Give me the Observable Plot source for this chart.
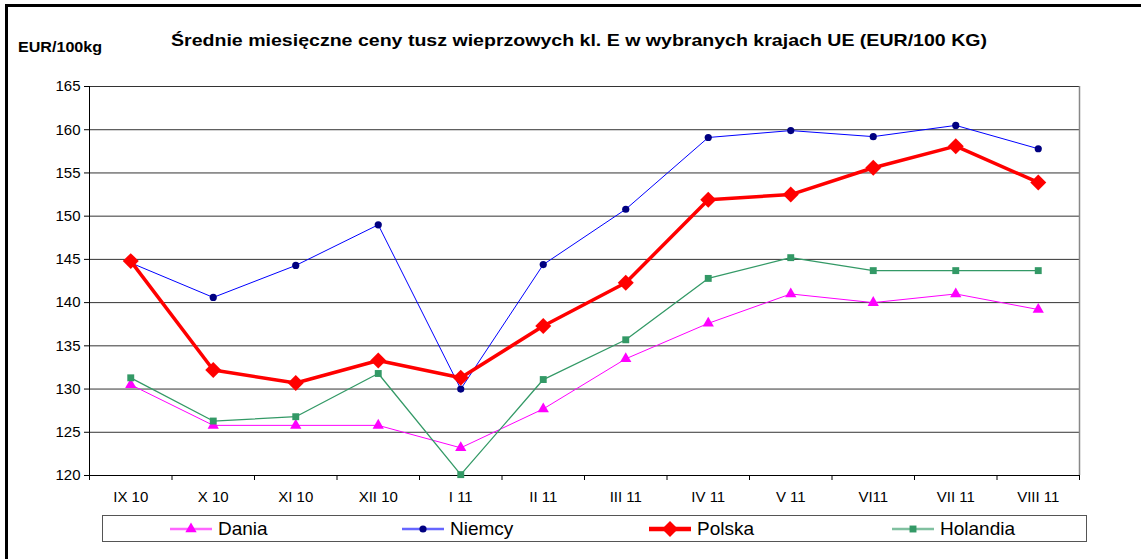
<!DOCTYPE html>
<html>
<head>
<meta charset="utf-8">
<script src="https://cdn.jsdelivr.net/npm/d3@7"></script>
<script src="https://cdn.jsdelivr.net/npm/@observablehq/plot@0.6"></script>
<style>
  html, body { margin: 0; padding: 0; background: #fff; }
  #wrap { position: relative; width: 1141px; height: 559px; overflow: hidden; font-family: "Liberation Sans", Arial, sans-serif; }
  #frame { position: absolute; left: 5px; top: 4px; width: 1200px; height: 700px; border-top: 3px solid #000; border-left: 3px solid #000; box-sizing: border-box; }
  #title { position: absolute; left: 171px; top: 31px; white-space: nowrap; font-weight: bold; font-size: 17px; color: #000; transform-origin: 0 0; transform: scaleX(1.15); }
  #unit { position: absolute; left: 18px; top: 39px; white-space: nowrap; font-weight: bold; font-size: 14px; color: #000; transform-origin: 0 0; transform: scaleX(1.15); }
  #legend { position: absolute; left: 102px; top: 515px; width: 985px; height: 27px; border: 1px solid #555; box-sizing: border-box; }
  .item { position: absolute; top: 0; height: 25px; display: flex; align-items: center; font-size: 19px; color: #000; }
  .item svg { margin-right: 6px; }
  #chart { position: absolute; left: 0; top: 0; }
</style>
</head>
<body>
<div id="wrap">
  <div id="frame"></div>
  <div id="chart"></div>
  <div id="unit">EUR/100kg</div>
  <div id="title">Średnie miesięczne ceny tusz wieprzowych kl. E w wybranych krajach UE (EUR/100 KG)</div>
  <div id="legend"></div>
</div>
<script>
const months = ["IX 10", "X 10", "XI 10", "XII 10", "I 11", "II 11", "III 11", "IV 11", "V 11", "VI11", "VII 11", "VIII 11"];
const dania    = [130.5, 125.8, 125.8, 125.8, 123.2, 127.7, 133.5, 137.6, 141.0, 140.0, 141.0, 139.2];
const niemcy   = [144.6, 140.6, 144.3, 149.0, 130.0, 144.4, 150.8, 159.1, 159.9, 159.2, 160.5, 157.8];
const polska   = [144.8, 132.2, 130.7, 133.3, 131.3, 137.3, 142.3, 151.9, 152.5, 155.6, 158.1, 153.9];
const holandia = [131.3, 126.3, 126.8, 131.8, 120.1, 131.1, 135.7, 142.8, 145.2, 143.7, 143.7, 143.7];
const yTicks = [120, 125, 130, 135, 140, 145, 150, 155, 160, 165];

const seriesDefs = [
  {name: "Dania",    values: dania,    stroke: "#FF00FF", width: 1,   symbol: "triangle", fill: "#FF00FF", r: 4.2, legendStroke: "#FF66FF", legendWidth: 2.5},
  {name: "Niemcy",   values: niemcy,   stroke: "#0000FF", width: 1,   symbol: "circle",   fill: "#000080", r: 3.6, legendStroke: "#6666FF", legendWidth: 2.5},
  {name: "Polska",   values: polska,   stroke: "#FF0000", width: 3.5, symbol: "diamond2", fill: "#FF0000", r: 7.2, legendStroke: "#FF0000", legendWidth: 4.5},
  {name: "Holandia", values: holandia, stroke: "#339966", width: 1.3, symbol: "square",   fill: "#339966", r: 3.9, legendStroke: "#80C0A0", legendWidth: 2.5}
];

const marks = [];
const gridVals = yTicks.filter(v => v > 120);
marks.push(Plot.ruleY(gridVals, {stroke: "#000", strokeWidth: 1, strokeOpacity: 0.8}));
marks.push(Plot.ruleX([11.5], {stroke: "#888", strokeWidth: 1.5}));
marks.push(Plot.ruleX([-0.5], {stroke: "#000", strokeWidth: 1}));
marks.push(Plot.ruleY([120], {stroke: "#000", strokeWidth: 1}));
marks.push(Plot.axisY({ticks: yTicks, tickSize: 5, tickPadding: 4, label: null, fontSize: 15, tickFormat: d => String(d)}));
marks.push(Plot.axisX({ticks: d3.range(-0.5, 12, 1), tickSize: 5, tickFormat: () => "", label: null}));
marks.push(Plot.axisX({ticks: d3.range(0, 12), tickSize: 0, tickPadding: 16, tickFormat: i => months[i], label: null, fontSize: 15}));

for (const s of seriesDefs) {
  const data = s.values.map((v, i) => ({i, v}));
  marks.push(Plot.line(data, {x: "i", y: "v", stroke: s.stroke, strokeWidth: s.width}));
  marks.push(Plot.dot(data, {x: "i", y: "v", symbol: () => s.symbol, fill: s.fill, stroke: "none", r: s.r}));
}

const chart = Plot.plot({
  width: 1141,
  height: 559,
  marginLeft: 89,
  marginRight: 62,
  marginTop: 86,
  marginBottom: 84,
  style: {fontFamily: "Liberation Sans, Arial, sans-serif", fontSize: "15px", color: "#000", background: "transparent", overflow: "visible"},
  x: {type: "linear", domain: [-0.5, 11.5]},
  y: {type: "linear", domain: [120, 165]},
  symbol: {type: "identity"},
  marks
});
document.getElementById("chart").appendChild(chart);

// legend
const legend = document.getElementById("legend");
const legendX = [67, 299, 546, 789];
const symMap = {triangle: d3.symbolTriangle, circle: d3.symbolCircle, diamond2: d3.symbolDiamond2, square: d3.symbolSquare};
seriesDefs.forEach((s, k) => {
  const item = document.createElement("div");
  item.className = "item";
  item.style.left = legendX[k] + "px";
  const sw = d3.create("svg").attr("width", 42).attr("height", 18);
  sw.append("line").attr("x1", 0).attr("x2", 42).attr("y1", 9).attr("y2", 9)
    .attr("stroke", s.legendStroke).attr("stroke-width", s.legendWidth);
  const size = Math.PI * s.r * s.r;
  sw.append("path").attr("transform", "translate(21,9)").attr("d", d3.symbol(symMap[s.symbol], size)()).attr("fill", s.fill);
  item.appendChild(sw.node());
  const t = document.createElement("span");
  t.textContent = s.name;
  item.appendChild(t);
  legend.appendChild(item);
});
</script>
</body>
</html>
